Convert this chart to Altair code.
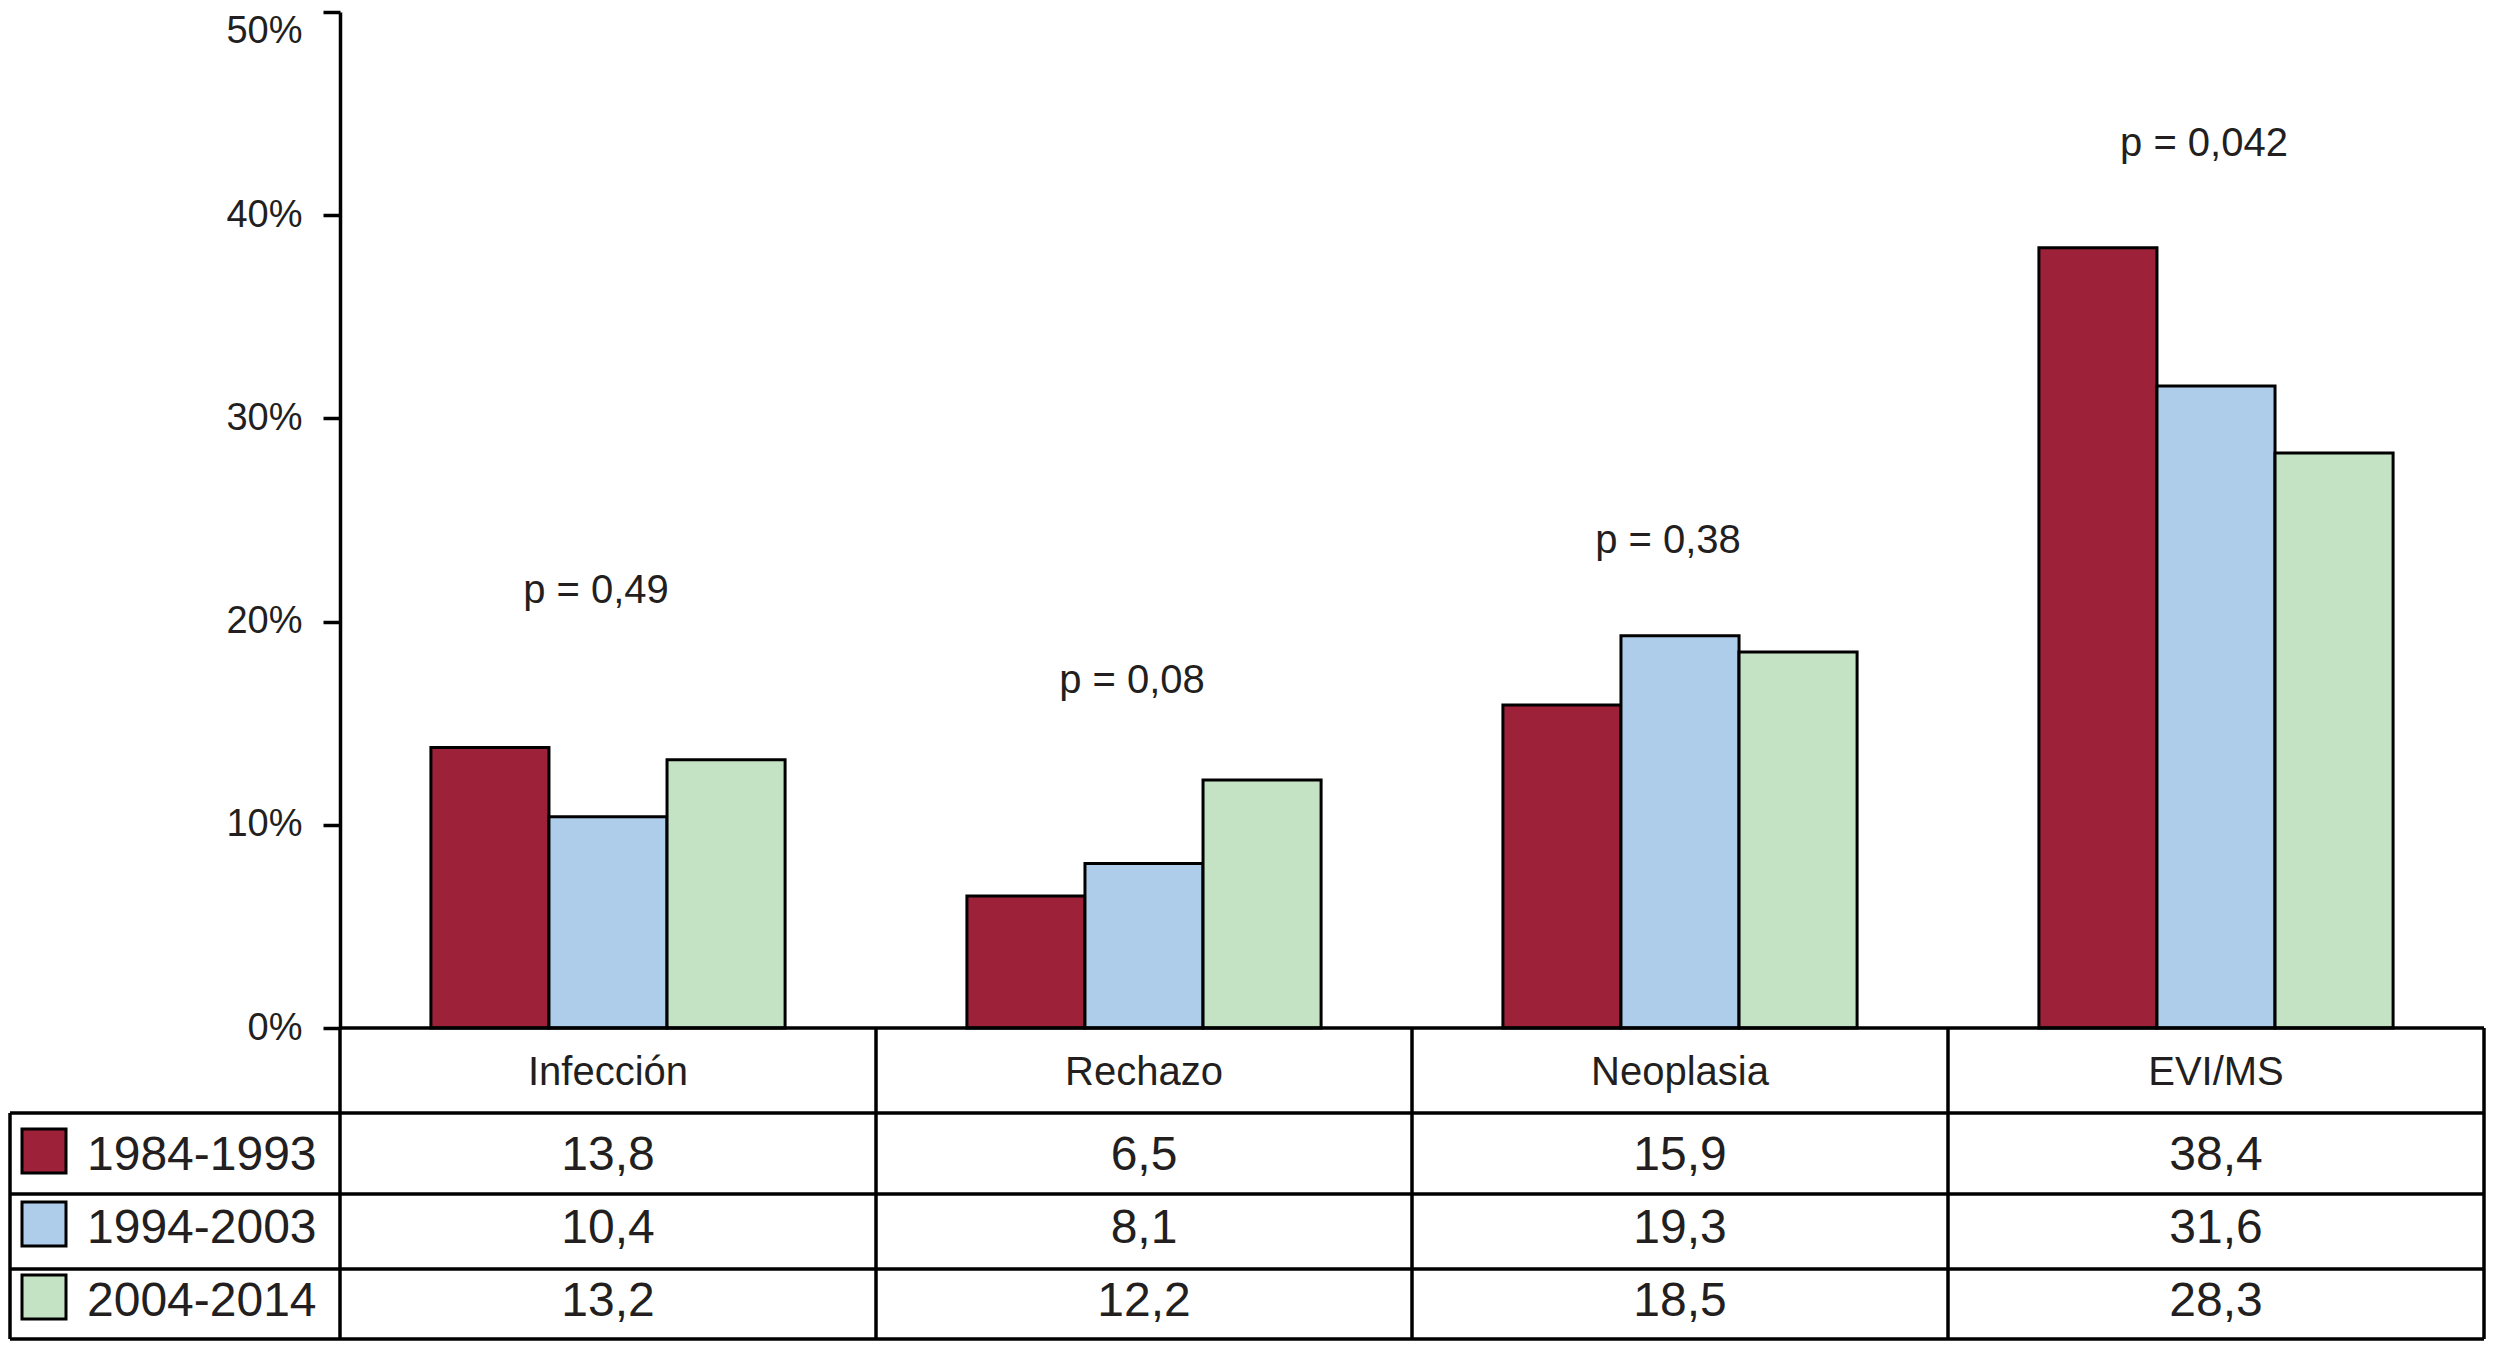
import altair as alt
import pandas as pd

# ---- data ----
categories = ["Infección", "Rechazo", "Neoplasia", "EVI/MS"]
periods = ["1984-1993", "1994-2003", "2004-2014"]
values_1984_1993 = [13.8, 6.5, 15.9, 38.4]
values_1994_2003 = [10.4, 8.1, 19.3, 31.6]
values_2004_2014 = [13.2, 12.2, 18.5, 28.3]
p_labels = ["p = 0,49", "p = 0,08", "p = 0,38", "p = 0,042"]
p_label_height = [20.9, 16.5, 23.4, 42.9]  # in % units (annotation height)
y_ticks = [0, 10, 20, 30, 40, 50]

colors = ["#9D2139", "#ADCDEB", "#C4E2C4"]

series = [values_1984_1993, values_1994_2003, values_2004_2014]
rows = []
for p, vals in zip(periods, series):
    for c, v in zip(categories, vals):
        rows.append({"cat": c, "period": p, "value": v,
                     "txt": f"{v:.1f}".replace(".", ",")})
df = pd.DataFrame(rows)
df_p = pd.DataFrame({"cat": categories, "label": p_labels, "ly": p_label_height})
df_cat = pd.DataFrame({"cat": categories})
df_one = pd.DataFrame({"a": [0]})

# ---- layout ----
W = 2144
H = 1016
FONT = "Liberation Sans"
TXT = "#231f20"
LW = 3.5
row_lines = [1101, 1182, 1257, 1327]
cat_baseline = 1073
row_baselines = [1158, 1231, 1304]
left_edge = -330

xcat = alt.X("cat:N", sort=categories,
             scale=alt.Scale(paddingInner=0, paddingOuter=0), axis=None)
color_enc = alt.Color("period:N", scale=alt.Scale(domain=periods, range=colors), legend=None)
yscale = alt.Scale(domain=[0, 50], nice=False)
yaxis = alt.Axis(values=y_ticks, labelExpr="datum.value + '%'", title=None,
                 grid=False, domainColor="black", domainWidth=LW,
                 tickColor="black", tickWidth=LW, tickSize=17,
                 labelFont=FONT, labelFontSize=38, labelColor=TXT,
                 labelPadding=21,
                 labelBaseline={"condition": {"test": "datum.value == 50", "value": "top"},
                                "value": "middle"})

bars = alt.Chart(df).mark_bar(stroke="black", strokeWidth=3).encode(
    x=xcat,
    xOffset=alt.XOffset("period:N", sort=periods,
                        scale=alt.Scale(paddingInner=0, paddingOuter=0.77)),
    y=alt.Y("value:Q", scale=yscale, axis=yaxis),
    color=color_enc,
)

plabels = alt.Chart(df_p).mark_text(font=FONT, fontSize=40, color=TXT, dx=-12,
                                    baseline="alphabetic", align="center").encode(
    x=alt.X("cat:N", sort=categories, axis=None),
    y=alt.Y("ly:Q", scale=yscale, axis=yaxis),
    text="label:N",
)

zero_line = alt.Chart(df_one).mark_rule(color="black", strokeWidth=LW).encode(
    x=alt.value(0), x2=alt.value(W), y=alt.value(H))

hlines = [
    alt.Chart(df_one).mark_rule(color="black", strokeWidth=LW).encode(
        x=alt.value(left_edge), x2=alt.value(W), y=alt.value(yv))
    for yv in row_lines
]

vlines = alt.Chart(df_cat).mark_rule(color="black", strokeWidth=LW).encode(
    x=alt.X("cat:N", sort=categories, bandPosition=0, axis=None),
    y=alt.value(H), y2=alt.value(row_lines[-1]))
vline_right = alt.Chart(df_one).mark_rule(color="black", strokeWidth=LW).encode(
    x=alt.value(W), y=alt.value(H), y2=alt.value(row_lines[-1]))
vline_left = alt.Chart(df_one).mark_rule(color="black", strokeWidth=LW).encode(
    x=alt.value(left_edge), y=alt.value(row_lines[0]), y2=alt.value(row_lines[-1]))

cat_text = alt.Chart(df_cat).mark_text(font=FONT, fontSize=40, color=TXT,
                                       baseline="alphabetic", align="center").encode(
    x=alt.X("cat:N", sort=categories, axis=None),
    y=alt.value(cat_baseline),
    text="cat:N",
)

value_texts = []
legend_layers = []
for i, p in enumerate(periods):
    sub = df[df["period"] == p]
    value_texts.append(
        alt.Chart(sub).mark_text(font=FONT, fontSize=48, color=TXT,
                                 baseline="alphabetic", align="center").encode(
            x=alt.X("cat:N", sort=categories, axis=None),
            y=alt.value(row_baselines[i]),
            text="txt:N",
        )
    )
    leg = pd.DataFrame({"period": [p]})
    legend_layers.append(
        alt.Chart(leg).mark_square(size=44 * 44, stroke="black", strokeWidth=3,
                                   filled=True, opacity=1).encode(
            x=alt.value(-296), y=alt.value(row_baselines[i] - 19), color=color_enc)
    )
    legend_layers.append(
        alt.Chart(leg).mark_text(font=FONT, fontSize=48, color=TXT,
                                 baseline="alphabetic", align="left").encode(
            x=alt.value(-253), y=alt.value(row_baselines[i]), text="period:N")
    )

chart = alt.layer(
    bars, plabels, zero_line, *hlines, vlines, vline_right, vline_left,
    cat_text, *value_texts, *legend_layers
).properties(
    width=W, height=H,
    background="white",
    autosize=alt.AutoSizeParams(type="none"),
    padding={"left": 332, "top": 4, "right": 2, "bottom": 313},
).configure_view(stroke="transparent", strokeWidth=0)

chart.save("out.html", embed_options={"renderer": "svg", "actions": False})
